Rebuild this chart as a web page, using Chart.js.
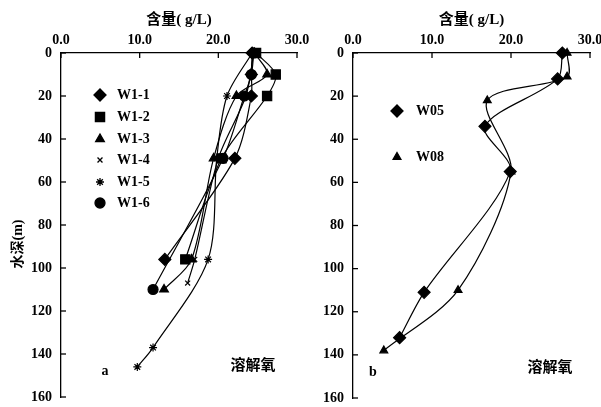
<!DOCTYPE html>
<html lang="zh">
<head>
<meta charset="UTF-8">
<title>溶解氧</title>
<script src="https://cdn.jsdelivr.net/npm/chart.js"></script>
<style>
  body { margin: 0; background: #fff; }
  .painel { position: absolute; top: 0; height: 407px; }
  #painelA { left: 0; width: 320px; }
  #painelB { left: 300px; width: 301px; }
</style>
</head>
<body>
<div class="painel" id="painelA"><canvas id="graficoA"></canvas></div>
<div class="painel" id="painelB"><canvas id="graficoB"></canvas></div>
<script>
// eixos
const xTicks = [0, 10, 20, 30];
const yTicks = [0, 20, 40, 60, 80, 100, 120, 140, 160];

// painel a: profundidade (m) e conteudo (g/L)
const depthW11 = [0, 10, 20, 49, 96];
const valW11 = [24.3, 24.2, 24.2, 22.1, 13.2];
const depthW12 = [0, 10, 20, 49, 96];
const valW12 = [24.8, 27.3, 26.2, 20.4, 15.8];
const depthW13 = [0, 10, 20, 49, 96, 110];
const valW13 = [24.6, 26.2, 22.3, 19.4, 16.6, 13.1];
const depthW14 = [0, 20, 49, 96, 107];
const valW14 = [24.5, 23.5, 20.0, 17.0, 16.1];
const depthW15 = [0, 20, 49, 96, 137, 146];
const valW15 = [24.3, 21.1, 19.8, 18.7, 11.7, 9.7];
const depthW16 = [0, 10, 20, 49, 110];
const valW16 = [24.5, 24.2, 23.3, 20.6, 11.7];

// painel b
const depthW05 = [0, 12, 34, 55, 111, 132];
const valW05 = [26.5, 25.9, 16.7, 19.9, 9.0, 5.9];
const depthW08 = [0, 11, 22, 55, 110, 138];
const valW08 = [27.1, 27.1, 17.0, 20.0, 13.3, 3.9];

const fonteNum = { family: "'Liberation Serif', 'Noto Sans CJK SC', serif", size: 14, weight: 'bold' };

function pontos(depths, vals) {
    let out = [];
    for (let i = 0; i < depths.length; i++) {
        out.push({ x: vals[i], y: depths[i] });
    }
    return out;
}

function serie(nome, depths, vals, estilo, raio) {
    return {
        label: nome,
        data: pontos(depths, vals),
        showLine: true,
        tension: 0.3,
        borderColor: '#000',
        backgroundColor: '#000',
        borderWidth: 1.2,
        pointStyle: estilo,
        pointRadius: raio,
        pointBorderWidth: 1.2,
        pointBorderColor: '#000',
        pointBackgroundColor: '#000',
        clip: false
    };
}

// marcas dos ticks para dentro + legenda + textos soltos
function pluginExtra(legenda, textos) {
    return {
        id: 'extra',
        afterDraw(chart) {
            const ctx = chart.ctx;
            const xs = chart.scales.x, ys = chart.scales.y;
            ctx.save();
            ctx.strokeStyle = '#000';
            ctx.lineWidth = 1.3;
            xTicks.forEach(v => {
                const px = xs.getPixelForValue(v);
                ctx.beginPath();
                ctx.moveTo(px, xs.bottom);
                ctx.lineTo(px, xs.bottom + 5);
                ctx.stroke();
            });
            yTicks.forEach(v => {
                const py = ys.getPixelForValue(v);
                ctx.beginPath();
                ctx.moveTo(ys.right, py);
                ctx.lineTo(ys.right + 5, py);
                ctx.stroke();
            });
            // legenda
            ctx.fillStyle = '#000';
            ctx.font = "bold 14px 'Liberation Serif', serif";
            ctx.textBaseline = 'middle';
            ctx.textAlign = 'left';
            legenda.forEach((item, i) => {
                const ds = chart.data.datasets[i];
                Chart.helpers.drawPoint(ctx, {
                    pointStyle: ds.pointStyle, radius: ds.pointRadius, rotation: 0, borderWidth: 1.2
                }, item.mx, item.y);
                ctx.fillText(ds.label, item.tx, item.y);
            });
            textos.forEach(t => {
                ctx.font = t.font;
                ctx.save();
                ctx.translate(t.x, t.y);
                if (t.rot) ctx.rotate(t.rot);
                ctx.textAlign = 'center';
                ctx.fillText(t.txt, 0, 0);
                ctx.restore();
            });
            ctx.restore();
        }
    };
}

function criarGrafico(id, datasets, larguraY, padding, legenda, textos) {
    const config = {
        type: 'scatter',
        data: { datasets: datasets },
        options: {
            responsive: true,
            maintainAspectRatio: false,
            animation: false,
            layout: { padding: padding },
            plugins: { legend: { display: false }, tooltip: { enabled: false } },
            scales: {
                x: {
                    position: 'top',
                    min: 0, max: 30,
                    afterFit: s => { s.height = 53; s.paddingLeft = 0; s.paddingRight = 0; },
                    afterBuildTicks: s => { s.ticks = xTicks.map(v => ({ value: v })); },
                    grid: { display: false, drawTicks: false },
                    border: { display: true, color: '#000', width: 1.3 },
                    ticks: { color: '#000', font: fonteNum, padding: 4, maxRotation: 0,
                        callback: v => v.toFixed(1) },
                    title: { display: true, text: '含量( g/L)', color: '#000',
                        font: { family: "'Liberation Serif', 'Noto Sans CJK SC', serif", size: 15, weight: 'bold' },
                        padding: { top: 11, bottom: 0 } }
                },
                y: {
                    reverse: true,
                    min: 0, max: 160,
                    afterFit: s => { s.width = larguraY; s.paddingTop = 0; s.paddingBottom = 0; },
                    afterBuildTicks: s => { s.ticks = yTicks.map(v => ({ value: v })); },
                    grid: { display: false, drawTicks: false },
                    border: { display: true, color: '#000', width: 1.3 },
                    ticks: { color: '#000', font: fonteNum, padding: 9 }
                }
            }
        },
        plugins: [pluginExtra(legenda, textos)]
    };
    return new Chart(document.getElementById(id), config);
}

let graficoA = criarGrafico('graficoA', [
    serie('W1-1', depthW11, valW11, 'rectRot', 6),
    serie('W1-2', depthW12, valW12, 'rect', 6.5),
    serie('W1-3', depthW13, valW13, 'triangle', 5),
    serie('W1-4', depthW14, valW14, 'crossRot', 3.5),
    serie('W1-5', depthW15, valW15, 'star', 4),
    serie('W1-6', depthW16, valW16, 'circle', 5)
], 61, { left: 0, right: 23, top: 0, bottom: 10 }, [
    { mx: 100, tx: 117, y: 95 },
    { mx: 100, tx: 117, y: 117 },
    { mx: 100, tx: 117, y: 139 },
    { mx: 100, tx: 117, y: 160 },
    { mx: 100, tx: 117, y: 182 },
    { mx: 100, tx: 117, y: 203 }
], [
    { txt: '溶解氧', x: 253, y: 364, font: "bold 15px 'Noto Sans CJK SC', sans-serif" },
    { txt: 'a', x: 105, y: 371, font: "bold 14px 'Liberation Serif', serif" },
    { txt: '水深(m)', x: 18, y: 244, rot: -Math.PI / 2, font: "bold 14px 'Liberation Serif', 'Noto Sans CJK SC', serif" }
]);

let graficoB = criarGrafico('graficoB', [
    serie('W05', depthW05, valW05, 'rectRot', 6),
    serie('W08', depthW08, valW08, 'triangle', 4.5)
], 53, { left: 0, right: 11, top: 0, bottom: 9 }, [
    { mx: 97, tx: 116, y: 111 },
    { mx: 97, tx: 116, y: 157 }
], [
    { txt: '溶解氧', x: 250, y: 366, font: "bold 15px 'Noto Sans CJK SC', sans-serif" },
    { txt: 'b', x: 73, y: 372, font: "bold 14px 'Liberation Serif', serif" }
]);
</script>
</body>
</html>
